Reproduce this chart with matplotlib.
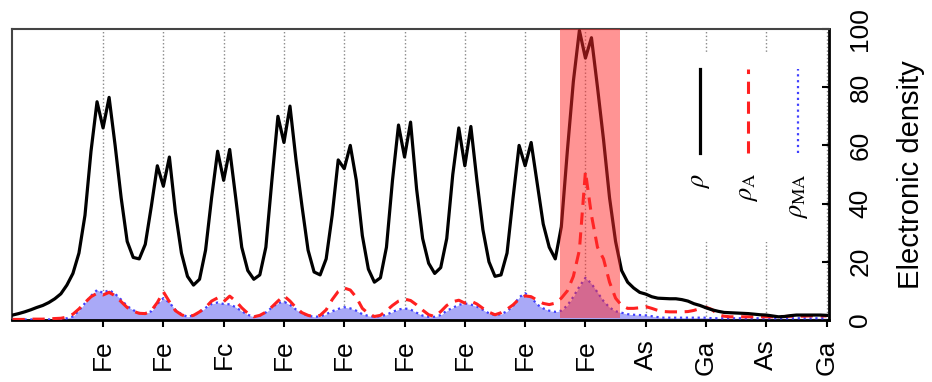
import matplotlib
matplotlib.use("Agg")
import matplotlib.pyplot as plt
import numpy as np

plt.rcParams["font.family"] = ["Liberation Sans", "DejaVu Sans"]
plt.rcParams["mathtext.fontset"] = "stix"

# atom sites along the chain (x tick positions are 0..12)
atoms = ["Fe", "Fe", "Fc", "Fe", "Fe", "Fe", "Fe", "Fe", "Fe", "As", "Ga", "As", "Ga"]

# sampling positions, in units of the atom spacing
pos = np.round(np.arange(-1.5, 12.0001, 0.1), 1)

# total density rho
rho = [1.7, 2.2, 2.8, 3.5, 4.3, 5.0, 6.0, 7.3, 9.0, 12, 16, 23, 36, 58, 75,
       66, 76.5, 60, 42, 27, 21.5, 21, 26, 39, 53,
       46, 56, 37, 23, 15, 12, 14, 24, 42, 58,
       48, 58.6, 42, 25, 17, 14, 15.5, 25, 48, 70,
       61, 73.5, 55, 39, 24, 16.5, 15.5, 21, 36, 55,
       52, 60, 48, 29, 17.5, 13, 14.5, 25, 48, 67,
       56, 68, 45, 28, 19.5, 16, 18, 28, 50, 66,
       53, 66.5, 48, 31, 20, 15, 15.5, 23, 42, 60,
       53, 61, 47, 33, 25, 21, 32, 58, 82, 99.5,
       90, 97, 80, 62, 42, 27, 17, 13, 11, 9.5,
       8.9, 8.0, 7.5, 7.4, 7.3, 7.3, 7.0, 6.5, 5.6, 5.0,
       4.2, 3.5, 3.0, 2.6, 2.5, 2.4, 2.3, 2.2, 2.0, 1.8,
       1.7, 1.4, 1.1, 1.2, 1.5, 1.7, 1.7, 1.7, 1.7, 1.7, 1.6]

# rho_A
rho_a = [0.2, 0.2, 0.2, 0.3, 0.3, 0.3, 0.4, 0.5, 0.6, 1.0, 2.0, 3.8, 6.0, 8.0, 9.2,
         8.6, 9.5, 8.3, 6.3, 4.3, 3.0, 2.3, 2.2, 3.2, 6.0,
         9.7, 6.3, 3.2, 1.8, 1.1, 1.6, 2.8, 4.3, 6.5, 7.6,
         6.3, 8.2, 6.5, 4.2, 2.3, 1.1, 1.6, 2.7, 4.5, 6.5,
         8.3, 6.5, 4.2, 2.5, 1.6, 1.1, 1.6, 3.5, 7.0, 9.8,
         11, 10.3, 7.8, 4.0, 2.2, 1.2, 1.6, 3.2, 5.0, 6.5,
         7.2, 6.7, 5.2, 3.4, 1.8, 1.2, 2.9, 5.0, 6.3, 6.8,
         5.8, 6.5, 5.5, 4.0, 2.7, 1.8, 2.5, 3.7, 5.2, 7.2,
         8.3, 8.0, 6.8, 5.7, 5.3, 5.8, 7.5, 10, 15, 24,
         51, 36, 25, 21, 13, 7.5, 5.0, 4.0, 4.0, 4.2,
         4.6, 4.0, 3.3, 2.9, 2.8, 2.8, 2.8, 2.9, 3.3, 3.9,
         4.4, 3.6, 1.8, 1.3, 1.1, 1.1, 1.1, 1.1, 1.1, 1.1,
         1.1, 1.1, 1.2, 1.2, 1.3, 1.3, 1.3, 1.4, 1.4, 1.4, 1.4]

# rho_MA
rho_ma = [0.2, 0.2, 0.2, 0.2, 0.2, 0.2, 0.2, 0.2, 0.2, 0.6, 1.2, 3.2, 5.8, 8.3, 10.3,
          9.3, 10.3, 9.0, 7.0, 4.8, 3.4, 2.4, 2.2, 3.0, 5.5,
          7.5, 6.0, 3.5, 2.0, 1.1, 1.6, 2.6, 4.2, 5.5, 6.0,
          5.5, 5.4, 4.4, 3.0, 1.8, 1.1, 1.5, 2.6, 4.3, 5.8,
          6.3, 5.2, 3.6, 2.2, 1.5, 1.1, 1.2, 2.0, 3.0, 3.8,
          4.4, 4.0, 3.2, 2.0, 1.4, 1.1, 1.3, 1.8, 2.8, 3.6,
          4.0, 3.6, 2.5, 1.5, 1.1, 1.1, 1.7, 3.2, 4.2, 5.2,
          5.7, 5.3, 4.6, 3.5, 2.3, 1.7, 2.0, 3.0, 4.8, 7.8,
          9.2, 7.8, 5.3, 4.0, 3.2, 2.8, 3.2, 5.0, 8.0, 11.5,
          14.5, 12.5, 9.5, 6.5, 4.3, 3.0, 2.5, 2.0, 1.8, 1.7,
          1.6, 1.3, 1.0, 0.8, 0.8, 0.8, 0.8, 0.8, 0.8, 0.8,
          0.8, 0.6, 0.6, 0.6, 0.6, 0.6, 0.6, 0.6, 0.6, 0.6,
          0.6, 0.6, 0.6, 0.6, 0.6, 0.6, 0.6, 0.6, 0.6, 0.6, 0.6]

# highlighted site range
highlight = (7.58, 8.57)
yticks = [0, 20, 40, 60, 80, 100]

fig = plt.figure(figsize=(9.32, 3.82), dpi=100)
ax = fig.add_axes([0.0129, 0.1623, 0.8766, 0.7618])

xt = np.arange(len(atoms))
for x in xt:
    ax.axvline(x, color="#888888", ls=":", lw=1.0, zorder=0.5)

ax.fill_between(pos, rho_ma, 0, color="#a9a9f7", lw=0, zorder=2)
ax.plot(pos, rho_ma, color="#4040ff", ls=":", lw=1.6, zorder=3)
ax.plot(pos, rho_a, color="#ff2020", ls=(0, (4, 2.5)), lw=2.2, zorder=3.5)
ax.plot(pos, rho, color="black", lw=2.3, solid_joinstyle="round", zorder=4)

ax.axvspan(highlight[0], highlight[1], ymin=0.006, ymax=1, color="#ff2a2a",
           alpha=0.5, lw=0, zorder=5)

# legend box, drawn rotated like the rest of the figure
ax.add_patch(plt.Rectangle((0.818, 0.268), 0.165, 0.653, transform=ax.transAxes,
                           facecolor="white", edgecolor="none", zorder=1))
leg = [("black", "-", 2.3, r"$\rho$"),
       ("#ff2020", (0, (4, 2.5)), 2.2, r"$\rho_\mathrm{A}$"),
       ("#4040ff", ":", 1.6, r"$\rho_\mathrm{MA}$")]
for (c, ls, lw, lab), lx in zip(leg, [0.842, 0.901, 0.962]):
    ax.plot([lx, lx], [0.574, 0.863], transform=ax.transAxes, color=c, ls=ls, lw=lw,
            zorder=6)
    ax.text(lx, 0.505, lab, transform=ax.transAxes, rotation=90, ha="center",
            va="top", fontsize=19, zorder=6)

ax.set_xlim(-1.51, 12.04)
ax.set_ylim(0, 100)
ax.set_xticks(xt)
ax.set_xticklabels(atoms, rotation=90, fontsize=19)
ax.tick_params(axis="x", direction="out", length=5, width=1.5, pad=9)

ax.yaxis.tick_right()
ax.yaxis.set_label_position("right")
ax.set_yticks(yticks)
ax.set_yticklabels([str(v) for v in yticks], rotation=90, va="center", fontsize=19)
ax.tick_params(axis="y", direction="in", length=5, width=1.5, pad=14)
ax.set_ylabel("Electronic density", fontsize=21, labelpad=18)

for s in ["left", "top"]:
    ax.spines[s].set_color("#444444")
    ax.spines[s].set_linewidth(1.5)
for s in ["right", "bottom"]:
    ax.spines[s].set_color("black")
    ax.spines[s].set_linewidth(2.0)

fig.savefig("out.png", dpi=100)
